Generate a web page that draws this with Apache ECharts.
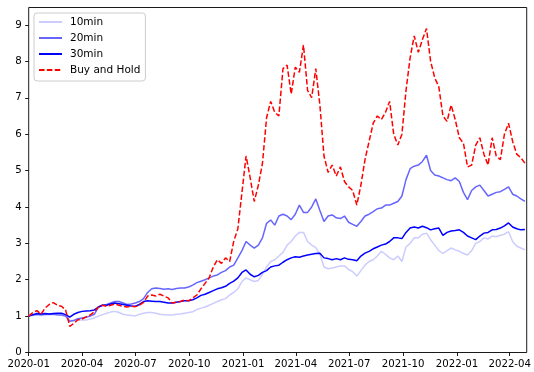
<!DOCTYPE html>
<html>
<head>
<meta charset="utf-8">
<script src="https://cdn.jsdelivr.net/npm/echarts@6/dist/echarts.min.js"></script>
<style>
  html, body { margin: 0; padding: 0; background: #fff; }
  #chart { width: 534px; height: 372px; }
</style>
</head>
<body>
<div id="chart"></div>
<script>
const dates = [
  '2020-01-01','2020-01-08','2020-01-15','2020-01-22','2020-01-29','2020-02-05','2020-02-12','2020-02-19','2020-02-26','2020-03-04',
  '2020-03-11','2020-03-18','2020-03-25','2020-04-01','2020-04-08','2020-04-15','2020-04-22','2020-04-29','2020-05-06','2020-05-13',
  '2020-05-20','2020-05-27','2020-06-03','2020-06-10','2020-06-17','2020-06-24','2020-07-01','2020-07-08','2020-07-15','2020-07-22',
  '2020-07-29','2020-08-05','2020-08-12','2020-08-19','2020-08-26','2020-09-02','2020-09-09','2020-09-16','2020-09-23','2020-09-30',
  '2020-10-07','2020-10-14','2020-10-21','2020-10-28','2020-11-04','2020-11-11','2020-11-18','2020-11-25','2020-12-02','2020-12-09',
  '2020-12-16','2020-12-23','2020-12-30','2021-01-06','2021-01-13','2021-01-20','2021-01-27','2021-02-03','2021-02-10','2021-02-17',
  '2021-02-24','2021-03-03','2021-03-10','2021-03-17','2021-03-24','2021-03-31','2021-04-07','2021-04-14','2021-04-21','2021-04-28',
  '2021-05-05','2021-05-12','2021-05-19','2021-05-26','2021-06-02','2021-06-09','2021-06-16','2021-06-23','2021-06-30','2021-07-07',
  '2021-07-14','2021-07-21','2021-07-28','2021-08-04','2021-08-11','2021-08-18','2021-08-25','2021-09-01','2021-09-08','2021-09-15',
  '2021-09-22','2021-09-29','2021-10-06','2021-10-13','2021-10-20','2021-10-27','2021-11-03','2021-11-10','2021-11-17','2021-11-24',
  '2021-12-01','2021-12-08','2021-12-15','2021-12-22','2021-12-29','2022-01-05','2022-01-12','2022-01-19','2022-01-26','2022-02-02',
  '2022-02-09','2022-02-16','2022-02-23','2022-03-02','2022-03-09','2022-03-16','2022-03-23','2022-03-30','2022-04-06','2022-04-13',
  '2022-04-20','2022-04-27'
];

const tenMin = [
  1.00,1.02,1.03,1.02,1.03,1.04,1.04,1.03,1.03,1.00,
  0.88,0.88,0.90,0.89,0.89,0.92,0.95,1.00,1.04,1.08,
  1.11,1.13,1.10,1.05,1.03,1.02,1.00,1.05,1.08,1.10,
  1.10,1.08,1.05,1.04,1.03,1.03,1.05,1.06,1.08,1.10,
  1.12,1.18,1.22,1.25,1.30,1.35,1.40,1.45,1.48,1.58,
  1.65,1.75,1.95,2.05,2.00,1.95,1.98,2.15,2.35,2.50,
  2.55,2.65,2.75,2.95,3.05,3.20,3.30,3.30,3.05,2.95,
  2.88,2.70,2.35,2.30,2.32,2.35,2.38,2.38,2.28,2.22,
  2.10,2.25,2.40,2.50,2.55,2.65,2.78,2.70,2.60,2.55,
  2.65,2.50,2.90,3.00,3.15,3.15,3.25,3.28,3.10,2.95,
  2.80,2.72,2.80,2.87,2.82,2.78,2.72,2.68,2.80,3.00,
  3.05,3.15,3.12,3.20,3.18,3.22,3.25,3.32,3.05,2.92,
  2.87,2.82
];

const twentyMin = [
  1.00,1.03,1.05,1.04,1.05,1.05,1.06,1.04,1.03,1.00,
  0.86,0.88,0.93,0.95,0.97,1.00,1.05,1.25,1.30,1.32,
  1.36,1.40,1.40,1.36,1.32,1.33,1.36,1.40,1.48,1.65,
  1.75,1.77,1.76,1.74,1.75,1.73,1.76,1.77,1.77,1.80,
  1.85,1.92,1.96,2.00,2.05,2.10,2.13,2.20,2.25,2.35,
  2.40,2.60,2.80,3.05,2.95,2.87,2.95,3.15,3.55,3.64,
  3.50,3.75,3.80,3.75,3.65,3.80,4.05,3.85,3.85,4.00,
  4.22,3.90,3.60,3.75,3.78,3.70,3.68,3.75,3.58,3.52,
  3.47,3.60,3.75,3.80,3.87,3.95,3.97,4.05,4.05,4.10,
  4.15,4.30,4.75,5.05,5.12,5.15,5.25,5.42,5.00,4.88,
  4.85,4.80,4.75,4.72,4.80,4.70,4.40,4.20,4.45,4.55,
  4.60,4.45,4.30,4.35,4.40,4.42,4.48,4.55,4.35,4.30,
  4.22,4.15
];

const thirtyMin = [
  1.00,1.04,1.07,1.06,1.07,1.06,1.07,1.08,1.08,1.04,
  0.97,1.05,1.10,1.13,1.14,1.15,1.17,1.25,1.30,1.30,
  1.33,1.36,1.34,1.32,1.30,1.28,1.27,1.32,1.40,1.42,
  1.41,1.40,1.40,1.38,1.36,1.36,1.38,1.40,1.42,1.42,
  1.45,1.50,1.57,1.60,1.65,1.70,1.75,1.78,1.82,1.90,
  1.96,2.05,2.20,2.27,2.15,2.08,2.12,2.20,2.25,2.35,
  2.38,2.40,2.48,2.55,2.60,2.63,2.62,2.65,2.68,2.70,
  2.72,2.73,2.60,2.58,2.55,2.58,2.55,2.60,2.56,2.55,
  2.52,2.65,2.73,2.78,2.85,2.90,2.95,2.98,3.05,3.15,
  3.15,3.13,3.30,3.42,3.45,3.42,3.47,3.43,3.37,3.40,
  3.42,3.22,3.30,3.34,3.35,3.37,3.30,3.20,3.15,3.10,
  3.20,3.28,3.30,3.37,3.38,3.42,3.48,3.56,3.45,3.40,
  3.37,3.38
];

const buyAndHold = [
  1.00,1.10,1.15,1.05,1.22,1.32,1.37,1.30,1.27,1.17,
  0.72,0.80,0.90,0.92,0.98,1.03,1.12,1.25,1.30,1.27,
  1.30,1.33,1.30,1.27,1.25,1.27,1.26,1.30,1.38,1.55,
  1.58,1.55,1.60,1.55,1.50,1.36,1.38,1.40,1.44,1.42,
  1.50,1.58,1.75,1.90,2.05,2.35,2.55,2.45,2.60,2.50,
  3.06,3.40,4.40,5.40,4.80,4.15,4.60,5.20,6.45,6.90,
  6.60,6.50,7.80,7.90,7.10,7.84,7.70,8.45,7.20,7.00,
  7.80,6.80,5.40,4.95,5.15,4.85,5.10,4.70,4.55,4.45,
  4.05,4.60,5.30,5.80,6.30,6.50,6.40,6.60,6.90,6.00,
  5.70,6.00,7.20,8.10,8.70,8.25,8.60,8.90,8.00,7.55,
  7.30,6.50,6.35,6.80,6.40,5.90,5.75,5.10,5.15,5.70,
  5.90,5.45,5.15,5.90,5.40,5.30,6.00,6.30,5.80,5.45,
  5.35,5.20
];

const seriesNames = ['10min', '20min', '30min', 'Buy and Hold'];
const xTickLabels = ['2020-01','2020-04','2020-07','2020-10','2021-01','2021-04','2021-07','2021-10','2022-01','2022-04'];
const yTickValues = [0,1,2,3,4,5,6,7,8,9];
const xRange = ['2020-01-01', '2022-04-30'];
const yRange = [0, 9.48];

function ts(s) {
  const p = s.split('-').map(Number);
  return new Date(p[0], p[1] - 1, p[2] || 1).getTime();
}
function pairs(vals) { return vals.map((v, i) => [ts(dates[i]), v]); }
const xTickValues = xTickLabels.map(ts);

const FONT = 'DejaVu Sans';
const chart = echarts.init(document.getElementById('chart'), null, { renderer: 'canvas' });

const mk = (name, vals, color, dashed) => ({
  name: name,
  type: 'line',
  data: pairs(vals),
  symbol: 'none',
  showSymbol: false,
  smooth: false,
  animation: false,
  color: color,
  lineStyle: { color: color, width: 1.5, type: dashed ? [5.5, 2.4] : 'solid' },
  emphasis: { disabled: true }
});

chart.setOption({
  animation: false,
  backgroundColor: '#ffffff',
  grid: {
    left: 28.7, right: 1.3, top: 7.5, bottom: 19.5,
    show: true, borderColor: '#000', borderWidth: 0.9, backgroundColor: 'transparent'
  },
  legend: {
    orient: 'vertical',
    left: 34, top: 13,
    padding: [3, 5, 5, 4],
    itemWidth: 23, itemHeight: 12, itemGap: 4,
    itemStyle: { opacity: 0 },
    backgroundColor: 'rgba(255,255,255,0.8)',
    borderColor: '#cccccc', borderWidth: 1, borderRadius: 3,
    textStyle: { fontFamily: FONT, fontSize: 10.5, color: '#000', lineHeight: 12, padding: [0, 0, 0, 3] },
    data: seriesNames,
    selectedMode: false
  },
  xAxis: {
    type: 'value',
    min: ts(xRange[0]), max: ts(xRange[1]),
    axisLine: { show: false },
    splitLine: { show: false },
    axisTick: { show: true, inside: false, length: 3.5, lineStyle: { color: '#000', width: 0.9 },
      customValues: xTickValues },
    axisLabel: {
      customValues: xTickValues,
      margin: 7, fontFamily: FONT, fontSize: 10.2, color: '#000',
      formatter: function (v) {
        const i = xTickValues.indexOf(v);
        return i >= 0 ? xTickLabels[i] : '';
      }
    }
  },
  yAxis: {
    type: 'value',
    min: yRange[0], max: yRange[1], interval: 1,
    axisLine: { show: false },
    splitLine: { show: false },
    axisTick: { show: true, inside: false, length: 3.5, lineStyle: { color: '#000', width: 0.9 },
      customValues: yTickValues },
    axisLabel: { customValues: yTickValues, margin: 7, fontFamily: FONT, fontSize: 10.2, color: '#000' }
  },
  series: [
    mk(seriesNames[0], tenMin, '#ccccff', false),
    mk(seriesNames[1], twentyMin, '#6666ff', false),
    mk(seriesNames[2], thirtyMin, '#0000ff', false),
    mk(seriesNames[3], buyAndHold, '#ff0000', true)
  ]
});
</script>
</body>
</html>
